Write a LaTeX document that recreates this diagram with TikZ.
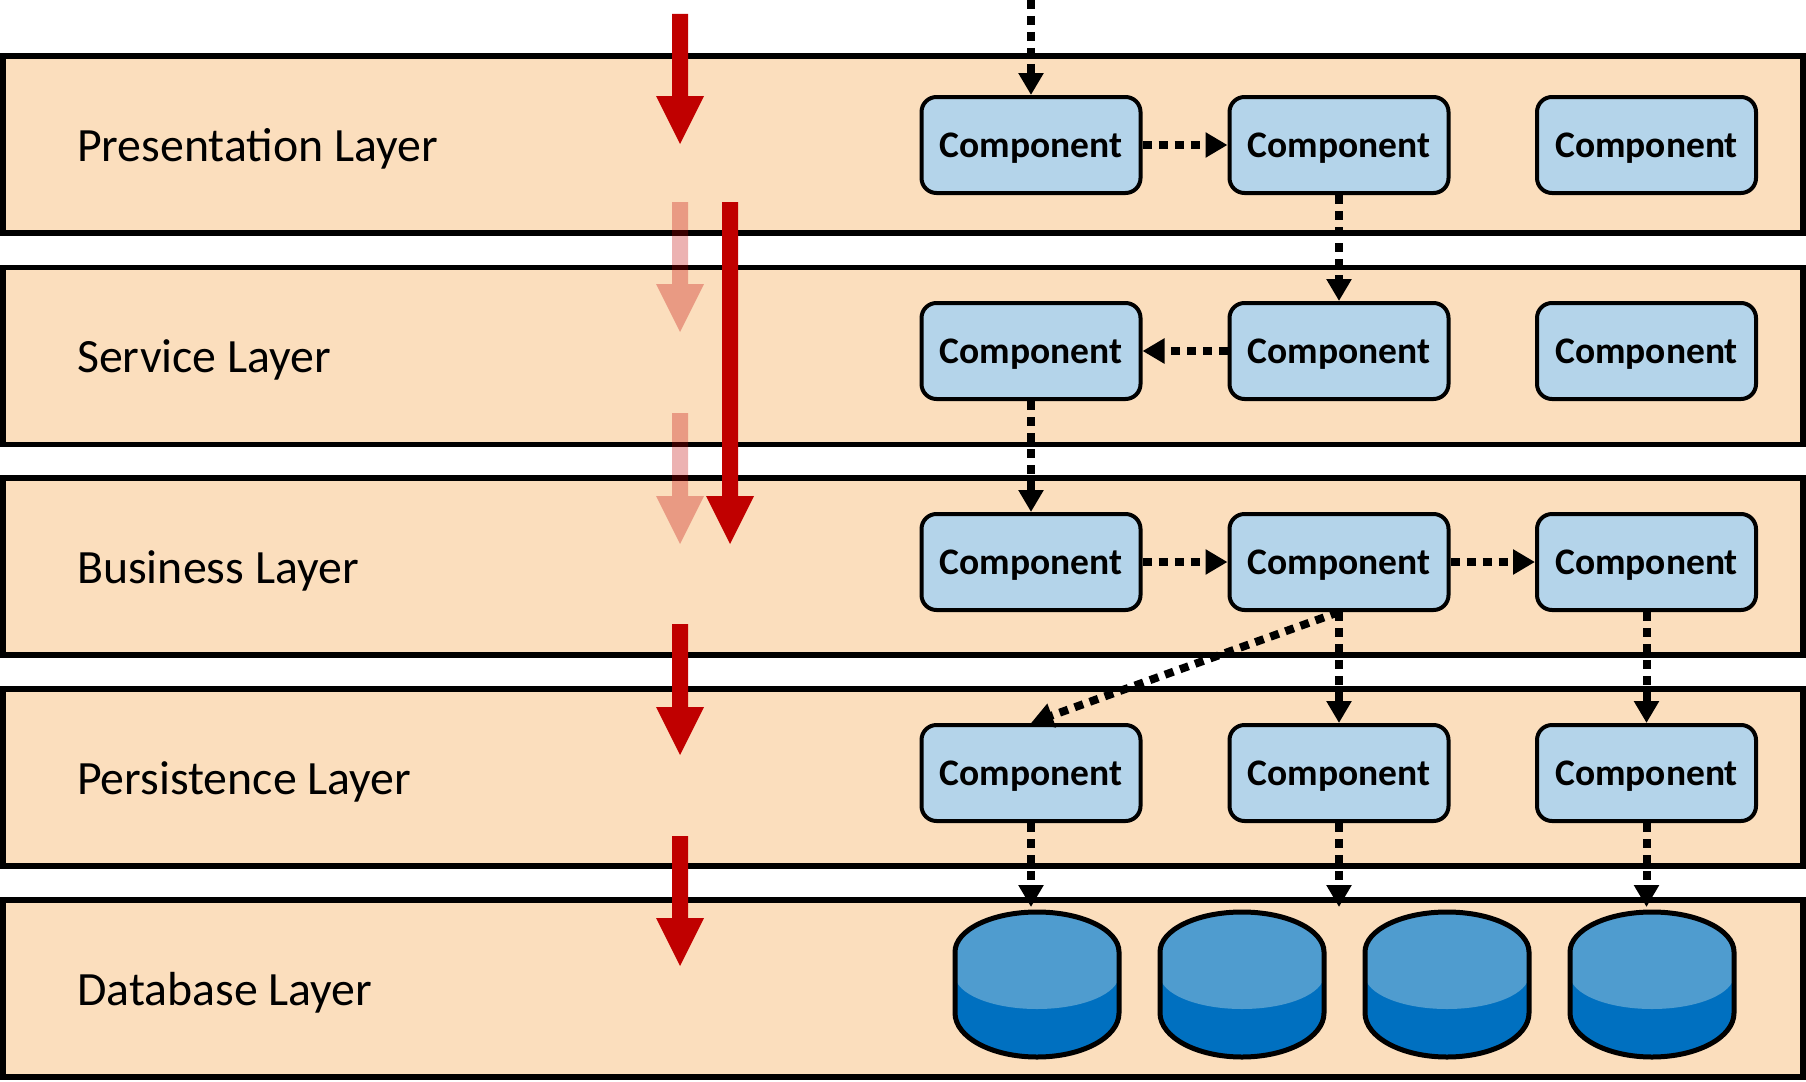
\documentclass[tikz,border=0pt]{standalone}
\usepackage{fontspec}
\setmainfont{Carlito}
\usetikzlibrary{arrows.meta}
\definecolor{peach}{RGB}{251,222,189}
\definecolor{compblue}{RGB}{180,212,234}
\definecolor{arrred}{RGB}{192,0,0}
\definecolor{dblight}{RGB}{79,156,207}
\definecolor{dbdark}{RGB}{0,112,192}
\newcommand\RedArrow[4]{%
  \fill[arrred, fill opacity=#4] ({#1-8},#2) -- ({#1+8},#2) -- ({#1+8},{#3-48}) -- ({#1+24},{#3-48}) -- (#1,#3) -- ({#1-24},{#3-48}) -- ({#1-8},{#3-48}) -- cycle;}
\begin{document}
\begin{tikzpicture}[x=1pt,y=-1pt,
  layerbox/.style={draw=black, line width=5.5pt, fill=peach, minimum width=1800.25pt, minimum height=177pt, inner sep=0pt},
  layerlabel/.style={anchor=base west, font=\fontsize{47.8}{52}\selectfont, inner sep=0pt},
  comp/.style={draw=black, line width=4pt, fill=compblue, rounded corners=15pt, minimum width=219pt, minimum height=96pt, inner sep=0pt, font=\bfseries\fontsize{37.5}{40}\selectfont, text height=24pt, text depth=0pt},
  dep/.style={line width=8pt, dash pattern=on 9pt off 7pt, -{Triangle[length=22pt,width=24pt]}}]
\useasboundingbox (0,0) rectangle (1806,1081);
% layers
\node[layerbox] (L1) at (902.9,144.5) {};
\node[layerbox] (L2) at (902.9,356) {};
\node[layerbox] (L3) at (902.9,566.5) {};
\node[layerbox] (L4) at (902.9,777.5) {};
\node[layerbox] (L5) at (902.9,988.5) {};
\node[layerlabel] (t1) at (77,161) {Presentation Layer};
\node[layerlabel] (t2) at (77,372) {Service Layer};
\node[layerlabel] (t3) at (77,583) {Business Layer};
\node[layerlabel] (t4) at (77,794) {Persistence Layer};
\node[layerlabel] (t5) at (77,1005) {Database Layer};
% red flow arrows
\RedArrow{680}{14}{144}{1}
\RedArrow{680}{202}{332}{0.3}
\RedArrow{680}{413}{544}{0.3}
\RedArrow{730}{202}{544}{1}
\RedArrow{680}{624}{755}{1}
\RedArrow{680}{836}{966}{1}
% components
\foreach \r/\y in {1/145,2/351,3/562,4/773}{
  \node[comp] (r\r c1) at (1031,\y) {Component};
  \node[comp] (r\r c2) at (1339,\y) {Component};
  \node[comp] (r\r c3) at (1646.5,\y) {Component};
}
% databases
\foreach \cx/\nm in {1037/db1,1242/db2,1447/db3,1652/db4}{
  \fill[dbdark] (\cx-82,1013) -- (\cx-82,952) arc[start angle=180,end angle=360,x radius=82,y radius=40] -- (\cx+82,1013) arc[start angle=0,end angle=180,x radius=82,y radius=44] -- cycle;
  \fill[dblight] (\cx-82,975) -- (\cx-82,952) arc[start angle=180,end angle=360,x radius=82,y radius=40] -- (\cx+82,975) arc[start angle=0,end angle=180,x radius=82,y radius=34] -- cycle;
  \draw[line width=5pt] (\cx-82,1013) -- (\cx-82,952) arc[start angle=180,end angle=360,x radius=82,y radius=40] -- (\cx+82,1013) arc[start angle=0,end angle=180,x radius=82,y radius=44] -- cycle;
  \coordinate (\nm) at (\cx,985);
}
% dependency arrows
\coordinate (top) at (1031,0);
\coordinate (e1) at (1031,907);
\coordinate (e2) at (1339,907);
\coordinate (e3) at (1646.5,907);
\draw[dep] (top) -- (r1c1.north);
\draw[dep] (r1c1.east) -- (r1c2.west);
\draw[dep] (r1c2.south) -- (r2c2.north);
\draw[dep] (r2c2.west) -- (r2c1.east);
\draw[dep] (r2c1.south) -- (r3c1.north);
\draw[dep] (r3c1.east) -- (r3c2.west);
\draw[dep] (r3c2.east) -- (r3c3.west);
\draw[dep] (r3c2.south) -- (r4c1.north);
\draw[dep] (r3c2.south) -- (r4c2.north);
\draw[dep] (r3c3.south) -- (r4c3.north);
\draw[dep] (r4c1.south) -- (e1);
\draw[dep] (r4c2.south) -- (e2);
\draw[dep] (r4c3.south) -- (e3);
\end{tikzpicture}
\end{document}
